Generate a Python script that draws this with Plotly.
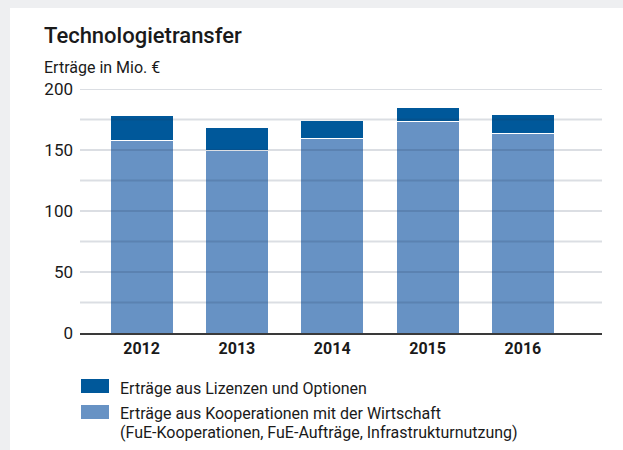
import plotly.graph_objects as go

# ---- data ----
years = ["2012", "2013", "2014", "2015", "2016"]
kooperationen = [157.4, 149.4, 159.7, 173.4, 163.6]   # Erträge aus Kooperationen mit der Wirtschaft
lizenzen = [21.2, 19.3, 14.8, 11.5, 15.8]             # Erträge aus Lizenzen und Optionen
y_ticks = [0, 50, 100, 150, 200]
grid_values = [25, 50, 75, 100, 125, 150, 175, 200]

title_text = "Technologietransfer"
unit_text = "Erträge in Mio. €"
legend_dark = "Erträge aus Lizenzen und Optionen"
legend_light_1 = "Erträge aus Kooperationen mit der Wirtschaft"
legend_light_2 = "(FuE-Kooperationen, FuE-Aufträge, Infrastrukturnutzung)"

DARK = "#00589a"
LIGHT = "#6792c4"
TEXT = "#1a1a1a"
FONT = "Roboto"

W, H = 623, 450
ML, MR, MT, MB = 80, 21, 89, 117
PW, PH = W - ML - MR, H - MT - MB


def px_x(p):
    return (p - ML) / PW


def px_y(p):
    return (H - MB - p) / PH


fig = go.Figure()
fig.add_trace(go.Bar(x=years, y=kooperationen, name=legend_light_1,
                     marker=dict(color=LIGHT, line=dict(color="white", width=1)),
                     width=0.661))
fig.add_trace(go.Bar(x=years, y=lizenzen, name=legend_dark,
                     marker=dict(color=DARK, line=dict(color="white", width=1)),
                     width=0.661))

shapes = []
# page background bands (grey frame around the white panel)
shapes.append(dict(type="rect", xref="paper", yref="paper", layer="below",
                   x0=px_x(-5), x1=px_x(10), y0=px_y(H + 5), y1=px_y(-5),
                   fillcolor="#eeeff1", line=dict(width=0)))
shapes.append(dict(type="rect", xref="paper", yref="paper", layer="below",
                   x0=px_x(-5), x1=px_x(W + 5), y0=px_y(8), y1=px_y(-5),
                   fillcolor="#eeeff1", line=dict(width=0)))
# grid lines drawn above the bars
for g in grid_values:
    shapes.append(dict(type="line", xref="paper", yref="y", layer="above",
                       x0=0, x1=1, y0=g, y1=g,
                       line=dict(color="rgba(30,50,80,0.16)", width=2)))
# legend swatches
shapes.append(dict(type="rect", xref="paper", yref="paper",
                   x0=px_x(81), x1=px_x(109), y0=px_y(393), y1=px_y(379),
                   fillcolor=DARK, line=dict(width=0)))
shapes.append(dict(type="rect", xref="paper", yref="paper",
                   x0=px_x(81), x1=px_x(109), y0=px_y(419), y1=px_y(405),
                   fillcolor=LIGHT, line=dict(width=0)))

annotations = [
    dict(text=title_text, x=px_x(42), y=px_y(35), xref="paper", yref="paper",
         xanchor="left", yanchor="middle", showarrow=False,
         font=dict(family=FONT, size=22, color=TEXT, weight=500)),
    dict(text=unit_text, x=px_x(42), y=px_y(68), xref="paper", yref="paper",
         xanchor="left", yanchor="middle", showarrow=False,
         font=dict(family=FONT, size=16, color=TEXT)),
    dict(text=legend_dark, x=px_x(118), y=px_y(388), xref="paper", yref="paper",
         xanchor="left", yanchor="middle", showarrow=False,
         font=dict(family=FONT, size=16, color=TEXT)),
    dict(text=legend_light_1, x=px_x(118), y=px_y(414), xref="paper", yref="paper",
         xanchor="left", yanchor="middle", showarrow=False,
         font=dict(family=FONT, size=16, color=TEXT)),
    dict(text=legend_light_2, x=px_x(118), y=px_y(432), xref="paper", yref="paper",
         xanchor="left", yanchor="middle", showarrow=False,
         font=dict(family=FONT, size=16, color=TEXT)),
]

fig.update_layout(
    width=W, height=H,
    margin=dict(l=ML, r=MR, t=MT, b=MB, pad=0),
    barmode="stack",
    showlegend=False,
    paper_bgcolor="white",
    plot_bgcolor="white",
    shapes=shapes,
    annotations=annotations,
    xaxis=dict(type="category", range=[-0.646, 4.83], showgrid=False,
               showline=True, linecolor="#3a3a3a", linewidth=1.5,
               ticks="", tickfont=dict(family=FONT, size=16, color=TEXT, weight="bold"),
               fixedrange=True),
    yaxis=dict(range=[0, 200], tickvals=y_ticks, ticktext=[str(v) for v in y_ticks],
               showgrid=False, zeroline=False, showline=False, ticks="",
               ticklabelstandoff=6,
               tickfont=dict(family=FONT, size=17, color=TEXT), fixedrange=True),
)

fig.write_html(
    "out.html",
    config={"displayModeBar": False, "staticPlot": True},
    post_script=(
        "document.body.style.margin='0';"
        "document.body.style.overflow='hidden';"
        "document.documentElement.style.overflow='hidden';"
        "document.body.style.background='white';"
        "document.documentElement.style.background='white';"
    ),
)
